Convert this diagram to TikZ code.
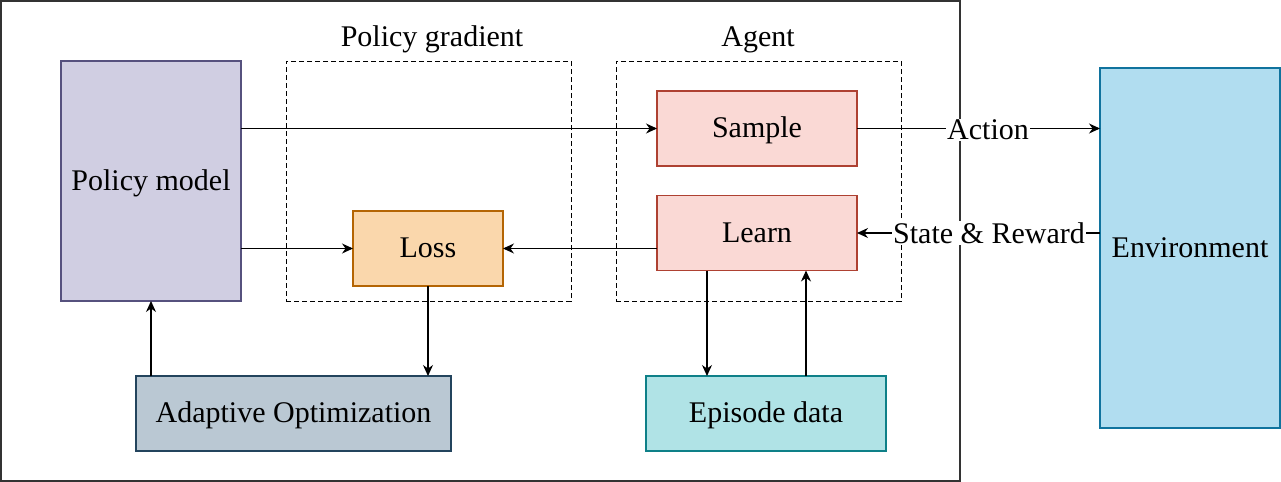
\documentclass[tikz,border=0pt]{standalone}
\usepackage{fontspec}
\setmainfont{Liberation Serif}
\usetikzlibrary{arrows.meta,calc}
\definecolor{pmfill}{HTML}{D0CEE2}\definecolor{pmdraw}{HTML}{56517E}
\definecolor{lossfill}{HTML}{FAD7AC}\definecolor{lossdraw}{HTML}{B46504}
\definecolor{redfill}{HTML}{FAD9D5}\definecolor{reddraw}{HTML}{AE4132}
\definecolor{adfill}{HTML}{BAC8D3}\definecolor{addraw}{HTML}{23445D}
\definecolor{epfill}{HTML}{B0E3E6}\definecolor{epdraw}{HTML}{0E8088}
\definecolor{envfill}{HTML}{B1DDF0}\definecolor{envdraw}{HTML}{10739E}
\tikzset{
  box/.style={draw, line width=0.6pt, inner sep=0pt, outer sep=0pt, text height=1.12em, text depth=0.22em},
  grp/.style={draw, line width=0.5pt, dash pattern=on 2.5pt off 1.5pt, inner sep=0pt, outer sep=0pt},
  arr/.style={line width=0.55pt, -{Stealth[length=5.5pt,width=5pt]}},
  lbl/.style={fill=white, inner sep=0.5pt},
  ttl/.style={inner sep=0pt, text height=1.12em, text depth=0.22em}
}
\begin{document}
\begin{tikzpicture}[x=0.5pt,y=-0.5pt,font=\fontsize{15pt}{18pt}\selectfont]
\useasboundingbox (0,0) rectangle (1281,482);
\node[draw=black!80, line width=0.8pt, inner sep=0pt, outer sep=0pt, minimum width=479.5pt, minimum height=240pt] (outer) at (480.25,240.75) {};
\node[grp, minimum width=142.5pt, minimum height=120pt] (pg) at (428.5,181) {};
\node[grp, minimum width=142.5pt, minimum height=120pt] (ag) at (758.5,181) {};
\node[ttl] (pgt) at (432,38) {Policy gradient};
\node[ttl] (agt) at (758,38) {Agent};
\node[box, fill=pmfill, draw=pmdraw, minimum width=90pt, minimum height=120pt] (pm) at (151,181) {Policy model};
\node[box, fill=redfill, draw=reddraw, minimum width=100pt, minimum height=37.5pt] (sample) at (757,128.5) {Sample};
\node[box, fill=redfill, draw=reddraw, minimum width=100pt, minimum height=37.5pt] (learn) at (757,233) {Learn};
\node[box, fill=lossfill, draw=lossdraw, minimum width=75pt, minimum height=37.5pt] (loss) at (428,248.5) {Loss};
\node[box, fill=adfill, draw=addraw, minimum width=157.5pt, minimum height=37.5pt] (adapt) at (293.5,413.5) {Adaptive Optimization};
\node[box, fill=epfill, draw=epdraw, minimum width=120pt, minimum height=37.5pt] (ep) at (766,413.5) {Episode data};
\node[box, fill=envfill, draw=envdraw, minimum width=90pt, minimum height=180pt] (env) at (1190,248) {Environment};
\draw[arr] (pm.east |- sample.west) -- (sample.west);
\draw[arr] (pm.east |- loss.west) -- (loss.west);
\draw[arr] (learn.west |- loss.east) -- (loss.east);
\draw[arr] (sample.east) -- (sample.east -| env.west);
\draw[arr] (env.west |- learn.east) -- (learn.east);
\draw[arr] (loss.south) -- (loss.south |- adapt.north);
\draw[arr] (adapt.north -| pm.south) -- (pm.south);
\draw[arr] (learn.south -| 707,0) -- (ep.north -| 707,0);
\draw[arr] (ep.north -| 806,0) -- (learn.south -| 806,0);
\node[lbl] (act) at (988,130) {Action};
\node[lbl] (sr) at (989,233) {State \& Reward};
\end{tikzpicture}
\end{document}
